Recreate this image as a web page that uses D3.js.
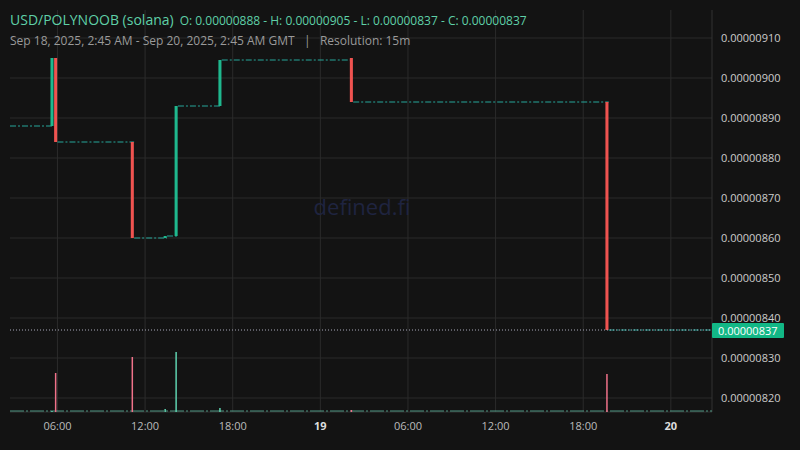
<!DOCTYPE html><html><head><meta charset="utf-8">
<script src="https://cdn.jsdelivr.net/npm/d3@7"></script>
<style>body{margin:0;background:#131313}svg{display:block}</style></head><body>
<svg id="c" width="800" height="450"></svg>
<script>
// candles: time (UTC), open, close
const candleTimes=["2025-09-18T05:30Z","2025-09-18T05:45Z","2025-09-18T11:00Z","2025-09-18T13:15Z","2025-09-18T14:00Z","2025-09-18T17:00Z","2025-09-19T02:00Z","2025-09-19T19:30Z"];
const candleOpen =[888,905,884,860,860.5,893,905,894];
const candleClose=[905,884,860,860.5,893,904.5,894,837];
const candleVolume=[1,39,55,3,60,4,2,38];
// flat periods: start, end, price
const flatStart=["2025-09-18T02:45Z","2025-09-18T06:00Z","2025-09-18T11:15Z","2025-09-18T13:30Z","2025-09-18T14:15Z","2025-09-18T17:15Z","2025-09-19T02:15Z","2025-09-19T19:45Z"];
const flatEnd  =["2025-09-18T05:30Z","2025-09-18T11:00Z","2025-09-18T13:15Z","2025-09-18T14:00Z","2025-09-18T17:00Z","2025-09-19T02:00Z","2025-09-19T19:30Z","2025-09-20T02:45Z"];
const flatPrice=[888,884,860,860.5,893,904.5,894,837];
const yTicks=[820,830,840,850,860,870,880,890,900,910];
const xTicks=[["2025-09-18T06:00Z","06:00",0],["2025-09-18T12:00Z","12:00",0],["2025-09-18T18:00Z","18:00",0],["2025-09-19T00:00Z","19",1],["2025-09-19T06:00Z","06:00",0],["2025-09-19T12:00Z","12:00",0],["2025-09-19T18:00Z","18:00",0],["2025-09-20T00:00Z","20",1]];
const lastPrice=837;

const svg=d3.select("#c");
const L=10,R=712,T=10,B=412;
const x=d3.scaleUtc().domain([new Date("2025-09-18T02:45Z"),new Date("2025-09-20T02:45Z")]).range([L,R-1]);
const y=d3.scaleLinear().domain([820,910]).range([398,38]);
const vy=d3.scaleLinear().domain([0,60]).range([B,B-60]);
const fmt=v=>(v/1e8).toFixed(8);
const bw=x(new Date("2025-09-18T03:00Z"))-x(new Date("2025-09-18T02:45Z"));
const UP="#26a69a",UPc="#1fb88e",DN="#ef5350";

const g=svg.append("g");
yTicks.forEach(v=>g.append("line").attr("x1",L).attr("x2",R).attr("y1",y(v)).attr("y2",y(v)).attr("stroke","#2b2b2b"));
xTicks.forEach(t=>g.append("line").attr("x1",x(new Date(t[0]))).attr("x2",x(new Date(t[0]))).attr("y1",T).attr("y2",B).attr("stroke","#2b2b2b"));
svg.append("line").attr("x1",R).attr("x2",R).attr("y1",T).attr("y2",B).attr("stroke","#333");
svg.append("line").attr("x1",L).attr("x2",R).attr("y1",B).attr("y2",B).attr("stroke","#333");

svg.append("text").attr("x",362).attr("y",215).attr("text-anchor","middle").attr("fill","#1f2440").attr("font-family","Open Sans").attr("font-size",22).text("defined.fi");

// volume baseline
svg.append("line").attr("x1",L).attr("x2",R).attr("y1",B-1).attr("y2",B-1).attr("stroke","#5fb9a0").attr("stroke-dasharray","14,2,2,2").attr("opacity",0.8);
candleTimes.forEach((t,i)=>{
  const cx=x(new Date(t))+bw/2, up=candleClose[i]>=candleOpen[i];
  svg.append("line").attr("x1",cx).attr("x2",cx).attr("y1",B).attr("y2",vy(candleVolume[i]))
    .attr("stroke",up?"#5fd3b0":"#f0728a").attr("stroke-width",1.5);
});

// flat segments
flatStart.forEach((s,i)=>{
  svg.append("line").attr("x1",x(new Date(s))).attr("x2",x(new Date(flatEnd[i]))+bw)
   .attr("y1",y(flatPrice[i])).attr("y2",y(flatPrice[i])).attr("stroke",UP).attr("stroke-dasharray","6,2,2,2").attr("stroke-width",1);
});
// candles
candleTimes.forEach((t,i)=>{
  const x0=x(new Date(t))+0.3, up=candleClose[i]>=candleOpen[i];
  const y1=y(Math.max(candleOpen[i],candleClose[i])),y2=y(Math.min(candleOpen[i],candleClose[i]));
  svg.append("rect").attr("x",x0).attr("width",bw-0.6).attr("y",y1).attr("height",Math.max(1,y2-y1)).attr("fill",up?UPc:DN);
});

// last price line
svg.append("line").attr("x1",L).attr("x2",R).attr("y1",y(lastPrice)).attr("y2",y(lastPrice)).attr("stroke","#aab").attr("stroke-dasharray","1,2");

// axes labels
yTicks.forEach(v=>svg.append("text").attr("x",R+9).attr("y",y(v)+4).attr("fill","#ccc").attr("font-family","Open Sans").attr("font-size",11).text(fmt(v)));
svg.append("rect").attr("x",R).attr("y",y(lastPrice)-7).attr("width",72).attr("height",15).attr("fill","#12b886").attr("rx",1);
svg.append("text").attr("x",R+6).attr("y",y(lastPrice)+4.5).attr("fill","#fff").attr("font-family","Open Sans").attr("font-size",11).text(fmt(lastPrice));
xTicks.forEach(t=>svg.append("text").attr("x",x(new Date(t[0]))).attr("y",430).attr("text-anchor","middle")
  .attr("fill",t[2]?"#ddd":"#bbb").attr("font-weight",t[2]?"bold":"normal").attr("font-family","Open Sans").attr("font-size",11).text(t[1]));

// header
const h=svg.append("text").attr("x",10).attr("y",25).attr("font-family","Open Sans").attr("fill","#5fd0a8");
h.append("tspan").attr("font-size",14).text("USD/POLYNOOB (solana)");
h.append("tspan").attr("dx",6).attr("font-size",12).text(`O: ${fmt(888)} - H: ${fmt(905)} - L: ${fmt(837)} - C: ${fmt(837)}`);
svg.append("text").attr("x",10).attr("y",45).attr("font-family","Open Sans").attr("font-size",12).attr("fill","#9a9a9a")
  .style("white-space","pre").text("Sep 18, 2025, 2:45 AM - Sep 20, 2025, 2:45 AM GMT   |   Resolution: 15m");
</script></body></html>
